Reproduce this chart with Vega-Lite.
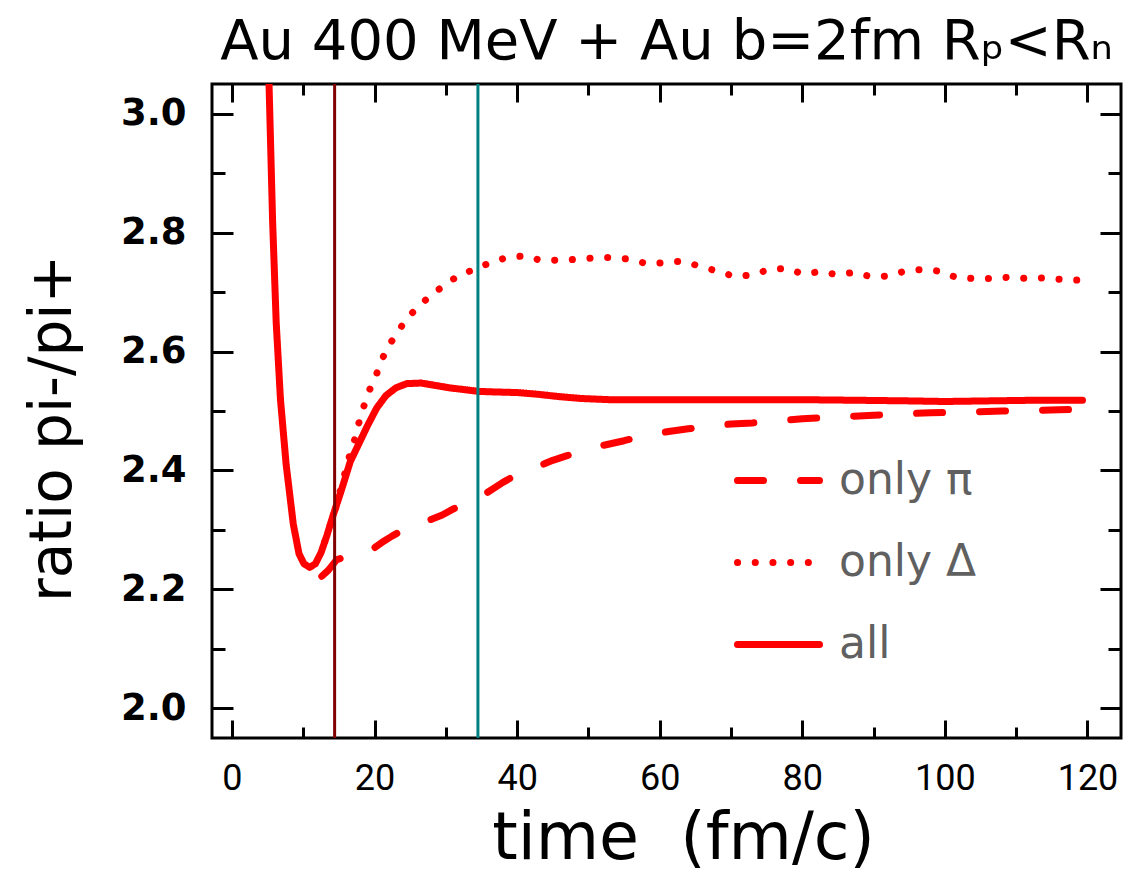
{
  "$schema": "https://vega.github.io/schema/vega-lite/v6.json",
  "width": 909,
  "height": 654,
  "autosize": {"type": "none"},
  "padding": {"left": 212, "top": 84, "right": 3, "bottom": 135},
  "background": "white",
  "title": {"text": "Au 400 MeV + Au b=2fm Rₚ<Rₙ", "font": "DejaVu Sans", "fontSize": 56, "fontWeight": "normal", "anchor": "middle", "baseline": "alphabetic", "offset": -32, "color": "black"},
  "config": {"view": {"stroke": "black", "strokeWidth": 3}, "axis": {"grid": false}},
  "datasets": {
    "curves": [
      {"t": 4.7, "ratio": 3.30, "series": "all"},
      {"t": 5.2, "ratio": 3.05, "series": "all"},
      {"t": 5.7, "ratio": 2.82, "series": "all"},
      {"t": 6.2, "ratio": 2.65, "series": "all"},
      {"t": 6.8, "ratio": 2.52, "series": "all"},
      {"t": 7.6, "ratio": 2.41, "series": "all"},
      {"t": 8.6, "ratio": 2.31, "series": "all"},
      {"t": 9.4, "ratio": 2.26, "series": "all"},
      {"t": 10.1, "ratio": 2.243, "series": "all"},
      {"t": 10.9, "ratio": 2.237, "series": "all"},
      {"t": 11.7, "ratio": 2.243, "series": "all"},
      {"t": 12.5, "ratio": 2.262, "series": "all"},
      {"t": 13.3, "ratio": 2.29, "series": "all"},
      {"t": 14.2, "ratio": 2.325, "series": "all"},
      {"t": 15.3, "ratio": 2.365, "series": "all"},
      {"t": 16.6, "ratio": 2.415, "series": "all"},
      {"t": 17.8, "ratio": 2.445, "series": "all"},
      {"t": 19.0, "ratio": 2.475, "series": "all"},
      {"t": 20.3, "ratio": 2.505, "series": "all"},
      {"t": 21.6, "ratio": 2.526, "series": "all"},
      {"t": 23.0, "ratio": 2.539, "series": "all"},
      {"t": 24.5, "ratio": 2.546, "series": "all"},
      {"t": 26.5, "ratio": 2.547, "series": "all"},
      {"t": 28.5, "ratio": 2.543, "series": "all"},
      {"t": 30.5, "ratio": 2.539, "series": "all"},
      {"t": 32.5, "ratio": 2.536, "series": "all"},
      {"t": 34.5, "ratio": 2.533, "series": "all"},
      {"t": 37, "ratio": 2.532, "series": "all"},
      {"t": 40, "ratio": 2.531, "series": "all"},
      {"t": 43, "ratio": 2.528, "series": "all"},
      {"t": 46, "ratio": 2.524, "series": "all"},
      {"t": 49, "ratio": 2.521, "series": "all"},
      {"t": 53, "ratio": 2.519, "series": "all"},
      {"t": 58, "ratio": 2.519, "series": "all"},
      {"t": 65, "ratio": 2.519, "series": "all"},
      {"t": 72, "ratio": 2.519, "series": "all"},
      {"t": 80, "ratio": 2.519, "series": "all"},
      {"t": 88, "ratio": 2.518, "series": "all"},
      {"t": 95, "ratio": 2.517, "series": "all"},
      {"t": 100, "ratio": 2.516, "series": "all"},
      {"t": 106, "ratio": 2.517, "series": "all"},
      {"t": 112, "ratio": 2.518, "series": "all"},
      {"t": 119.3, "ratio": 2.518, "series": "all"},
      {"t": 13.0, "ratio": 2.28, "series": "only Δ"},
      {"t": 14.4, "ratio": 2.33, "series": "only Δ"},
      {"t": 15.5, "ratio": 2.38, "series": "only Δ"},
      {"t": 16.6, "ratio": 2.43, "series": "only Δ"},
      {"t": 17.3, "ratio": 2.455, "series": "only Δ"},
      {"t": 17.8, "ratio": 2.48, "series": "only Δ"},
      {"t": 18.5, "ratio": 2.508, "series": "only Δ"},
      {"t": 19.2, "ratio": 2.533, "series": "only Δ"},
      {"t": 20.1, "ratio": 2.556, "series": "only Δ"},
      {"t": 21, "ratio": 2.586, "series": "only Δ"},
      {"t": 22, "ratio": 2.61, "series": "only Δ"},
      {"t": 23.3, "ratio": 2.634, "series": "only Δ"},
      {"t": 24.6, "ratio": 2.657, "series": "only Δ"},
      {"t": 26.3, "ratio": 2.677, "series": "only Δ"},
      {"t": 28, "ratio": 2.696, "series": "only Δ"},
      {"t": 30, "ratio": 2.713, "series": "only Δ"},
      {"t": 31.9, "ratio": 2.729, "series": "only Δ"},
      {"t": 34, "ratio": 2.738, "series": "only Δ"},
      {"t": 36.3, "ratio": 2.75, "series": "only Δ"},
      {"t": 38.5, "ratio": 2.758, "series": "only Δ"},
      {"t": 41.1, "ratio": 2.761, "series": "only Δ"},
      {"t": 43.4, "ratio": 2.753, "series": "only Δ"},
      {"t": 45.9, "ratio": 2.754, "series": "only Δ"},
      {"t": 48.4, "ratio": 2.755, "series": "only Δ"},
      {"t": 51, "ratio": 2.758, "series": "only Δ"},
      {"t": 53.5, "ratio": 2.758, "series": "only Δ"},
      {"t": 56, "ratio": 2.755, "series": "only Δ"},
      {"t": 58.4, "ratio": 2.747, "series": "only Δ"},
      {"t": 60.9, "ratio": 2.75, "series": "only Δ"},
      {"t": 63.3, "ratio": 2.752, "series": "only Δ"},
      {"t": 65.7, "ratio": 2.743, "series": "only Δ"},
      {"t": 68.2, "ratio": 2.735, "series": "only Δ"},
      {"t": 70.5, "ratio": 2.726, "series": "only Δ"},
      {"t": 73.1, "ratio": 2.729, "series": "only Δ"},
      {"t": 75.3, "ratio": 2.738, "series": "only Δ"},
      {"t": 77.8, "ratio": 2.74, "series": "only Δ"},
      {"t": 80.2, "ratio": 2.73, "series": "only Δ"},
      {"t": 82.6, "ratio": 2.735, "series": "only Δ"},
      {"t": 84.9, "ratio": 2.729, "series": "only Δ"},
      {"t": 87.2, "ratio": 2.733, "series": "only Δ"},
      {"t": 89.6, "ratio": 2.726, "series": "only Δ"},
      {"t": 92, "ratio": 2.727, "series": "only Δ"},
      {"t": 94.6, "ratio": 2.736, "series": "only Δ"},
      {"t": 97, "ratio": 2.738, "series": "only Δ"},
      {"t": 99.4, "ratio": 2.735, "series": "only Δ"},
      {"t": 101.7, "ratio": 2.724, "series": "only Δ"},
      {"t": 104.2, "ratio": 2.723, "series": "only Δ"},
      {"t": 106.5, "ratio": 2.723, "series": "only Δ"},
      {"t": 109, "ratio": 2.725, "series": "only Δ"},
      {"t": 111.5, "ratio": 2.723, "series": "only Δ"},
      {"t": 114, "ratio": 2.724, "series": "only Δ"},
      {"t": 116.6, "ratio": 2.721, "series": "only Δ"},
      {"t": 119, "ratio": 2.72, "series": "only Δ"},
      {"t": 12.6, "ratio": 2.222, "series": "only π"},
      {"t": 13.5, "ratio": 2.232, "series": "only π"},
      {"t": 14.7, "ratio": 2.25, "series": "only π"},
      {"t": 16, "ratio": 2.255, "series": "only π"},
      {"t": 17.5, "ratio": 2.258, "series": "only π"},
      {"t": 18.9, "ratio": 2.262, "series": "only π"},
      {"t": 20, "ratio": 2.27, "series": "only π"},
      {"t": 21.3, "ratio": 2.281, "series": "only π"},
      {"t": 22.5, "ratio": 2.29, "series": "only π"},
      {"t": 24, "ratio": 2.3, "series": "only π"},
      {"t": 25.2, "ratio": 2.306, "series": "only π"},
      {"t": 26.5, "ratio": 2.31, "series": "only π"},
      {"t": 28, "ratio": 2.318, "series": "only π"},
      {"t": 29.5, "ratio": 2.325, "series": "only π"},
      {"t": 31, "ratio": 2.335, "series": "only π"},
      {"t": 32.2, "ratio": 2.341, "series": "only π"},
      {"t": 34.5, "ratio": 2.355, "series": "only π"},
      {"t": 35.7, "ratio": 2.362, "series": "only π"},
      {"t": 38, "ratio": 2.38, "series": "only π"},
      {"t": 39.5, "ratio": 2.39, "series": "only π"},
      {"t": 41, "ratio": 2.398, "series": "only π"},
      {"t": 43, "ratio": 2.407, "series": "only π"},
      {"t": 45, "ratio": 2.417, "series": "only π"},
      {"t": 47, "ratio": 2.425, "series": "only π"},
      {"t": 49.5, "ratio": 2.433, "series": "only π"},
      {"t": 52, "ratio": 2.442, "series": "only π"},
      {"t": 55, "ratio": 2.45, "series": "only π"},
      {"t": 58, "ratio": 2.459, "series": "only π"},
      {"t": 61, "ratio": 2.465, "series": "only π"},
      {"t": 64, "ratio": 2.47, "series": "only π"},
      {"t": 67, "ratio": 2.475, "series": "only π"},
      {"t": 70, "ratio": 2.478, "series": "only π"},
      {"t": 73, "ratio": 2.48, "series": "only π"},
      {"t": 76, "ratio": 2.483, "series": "only π"},
      {"t": 80, "ratio": 2.487, "series": "only π"},
      {"t": 85, "ratio": 2.49, "series": "only π"},
      {"t": 90, "ratio": 2.493, "series": "only π"},
      {"t": 94, "ratio": 2.495, "series": "only π"},
      {"t": 98, "ratio": 2.497, "series": "only π"},
      {"t": 103, "ratio": 2.498, "series": "only π"},
      {"t": 108, "ratio": 2.5, "series": "only π"},
      {"t": 112, "ratio": 2.501, "series": "only π"},
      {"t": 116, "ratio": 2.502, "series": "only π"},
      {"t": 119.3, "ratio": 2.503, "series": "only π"}
    ],
    "markers": [
      {"t": 14.4, "which": "early"},
      {"t": 34.5, "which": "late"}
    ]
  },
  "resolve": {"axis": {"x": "independent", "y": "independent"}},
  "layer": [
    {
      "data": {"name": "curves"},
      "mark": {"type": "line", "color": "#ff0000", "strokeWidth": 7, "strokeCap": "round", "strokeJoin": "round", "clip": true},
      "encoding": {
        "x": {"field": "t", "type": "quantitative", "scale": {"domain": [-2.8, 124.7], "nice": false, "zero": false},
          "axis": {"orient": "bottom", "values": [0, 20, 40, 60, 80, 100, 120], "ticks": false, "domain": false, "labelFont": "Roboto", "labelFontSize": 36, "labelColor": "black", "labelPadding": 23, "title": "time \u00a0(fm/c)", "titleFont": "DejaVu Sans", "titleFontSize": 65, "titleFontWeight": "normal", "titleColor": "black", "titleBaseline": "alphabetic", "titleX": 471, "titleY": 120}},
        "y": {"field": "ratio", "type": "quantitative", "scale": {"domain": [1.95, 3.05], "nice": false, "zero": false},
          "axis": {"orient": "left", "values": [2.0, 2.2, 2.4, 2.6, 2.8, 3.0], "format": ".1f", "ticks": false, "domain": false, "labelFont": "DejaVu Sans", "labelFontWeight": "bold", "labelFontSize": 37, "labelColor": "black", "labelPadding": 26, "title": "ratio pi-/pi+", "titleFont": "DejaVu Sans", "titleFontSize": 58, "titleFontWeight": "normal", "titleColor": "black", "titleBaseline": "alphabetic", "titleAngle": 270, "titleX": -142, "titleY": 344}},
        "strokeDash": {"field": "series", "type": "nominal",
          "scale": {"domain": ["only π", "only Δ", "all"], "range": [[26, 37], [0.1, 17.6], [1, 0]]},
          "legend": {"orient": "none", "legendX": 522, "legendY": 352, "title": null, "symbolType": "stroke", "symbolSize": 6724, "symbolStrokeWidth": 7, "symbolStrokeColor": "#ff0000", "labelFont": "DejaVu Sans", "labelFontSize": 44, "labelColor": "#606060", "labelOffset": 16, "rowPadding": 15, "labelBaseline": "middle",
            "encode": {"symbols": {"update": {"strokeCap": {"value": "round"}}}}}}
      }
    },
    {
      "data": {"name": "curves"},
      "mark": {"type": "point", "opacity": 0, "clip": true},
      "encoding": {
        "x": {"field": "t", "type": "quantitative", "scale": {"domain": [-2.8, 124.7], "nice": false, "zero": false},
          "axis": {"orient": "bottom", "values": [0, 20, 40, 60, 80, 100, 120], "tickSize": -18, "tickWidth": 3, "tickColor": "black", "labels": false, "domain": false, "title": null}},
        "y": {"field": "ratio", "type": "quantitative", "scale": {"domain": [1.95, 3.05], "nice": false, "zero": false},
          "axis": {"orient": "left", "values": [2.0, 2.2, 2.4, 2.6, 2.8, 3.0], "tickSize": -21, "tickWidth": 3, "tickColor": "black", "labels": false, "domain": false, "title": null}}
      }
    },
    {
      "data": {"name": "curves"},
      "mark": {"type": "point", "opacity": 0, "clip": true},
      "encoding": {
        "x": {"field": "t", "type": "quantitative", "scale": {"domain": [-2.8, 124.7], "nice": false, "zero": false},
          "axis": {"orient": "bottom", "values": [10, 30, 50, 70, 90, 110], "tickSize": -11, "tickWidth": 3, "tickColor": "black", "labels": false, "domain": false, "title": null}},
        "y": {"field": "ratio", "type": "quantitative", "scale": {"domain": [1.95, 3.05], "nice": false, "zero": false},
          "axis": {"orient": "left", "values": [2.1, 2.3, 2.5, 2.7, 2.9], "tickSize": -13, "tickWidth": 3, "tickColor": "black", "labels": false, "domain": false, "title": null}}
      }
    },
    {
      "data": {"name": "curves"},
      "mark": {"type": "point", "opacity": 0, "clip": true},
      "encoding": {
        "x": {"field": "t", "type": "quantitative", "scale": {"domain": [-2.8, 124.7], "nice": false, "zero": false},
          "axis": {"orient": "top", "values": [0, 20, 40, 60, 80, 100, 120], "tickSize": -18, "tickWidth": 3, "tickColor": "black", "labels": false, "domain": false, "title": null}},
        "y": {"field": "ratio", "type": "quantitative", "scale": {"domain": [1.95, 3.05], "nice": false, "zero": false},
          "axis": {"orient": "right", "values": [2.0, 2.2, 2.4, 2.6, 2.8, 3.0], "tickSize": -21, "tickWidth": 3, "tickColor": "black", "labels": false, "domain": false, "title": null}}
      }
    },
    {
      "data": {"name": "curves"},
      "mark": {"type": "point", "opacity": 0, "clip": true},
      "encoding": {
        "x": {"field": "t", "type": "quantitative", "scale": {"domain": [-2.8, 124.7], "nice": false, "zero": false},
          "axis": {"orient": "top", "values": [10, 30, 50, 70, 90, 110], "tickSize": -11, "tickWidth": 3, "tickColor": "black", "labels": false, "domain": false, "title": null}},
        "y": {"field": "ratio", "type": "quantitative", "scale": {"domain": [1.95, 3.05], "nice": false, "zero": false},
          "axis": {"orient": "right", "values": [2.1, 2.3, 2.5, 2.7, 2.9], "tickSize": -13, "tickWidth": 3, "tickColor": "black", "labels": false, "domain": false, "title": null}}
      }
    },
    {
      "data": {"name": "markers"},
      "mark": {"type": "rule", "strokeWidth": 3},
      "encoding": {
        "x": {"field": "t", "type": "quantitative", "scale": {"domain": [-2.8, 124.7], "nice": false, "zero": false}, "axis": null},
        "color": {"field": "which", "type": "nominal", "scale": {"domain": ["early", "late"], "range": ["#800000", "#008080"]}, "legend": null}
      }
    }
  ]
}
